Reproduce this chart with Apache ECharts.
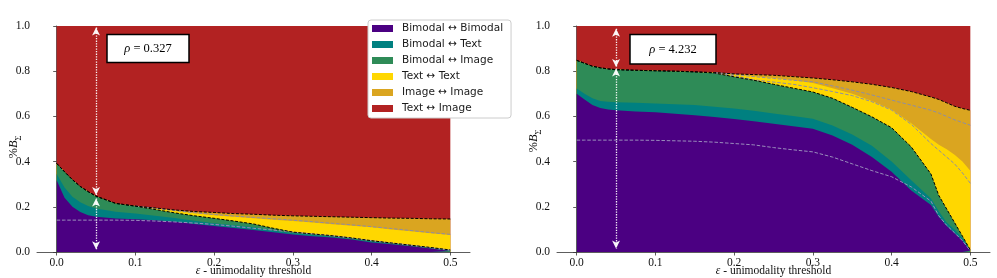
<!DOCTYPE html>
<html><head><meta charset="utf-8">
<script src="https://cdn.jsdelivr.net/npm/echarts@6/dist/echarts.min.js"></script>
<style>html,body{margin:0;padding:0;background:#fff}#c{width:997px;height:278px}</style>
</head><body><div id="c"></div>
<script>
// ---- categories / legend ----
const layerNames = ['Bimodal \u2194 Bimodal','Bimodal \u2194 Text','Bimodal \u2194 Image','Text \u2194 Text','Image \u2194 Image','Text \u2194 Image'];
const layerColors = ['#4b0082','#008080','#2e8b57','#ffd700','#daa520','#b22222'];
const xTicks = [0, 0.1, 0.2, 0.3, 0.4, 0.5];
const rhoValues = ['0.327', '4.232'];
const arrowEps = 0.05;
const arrowLeft = [0.993, 0.252, 0.237, 0.012];
const arrowRight = [0.988, 0.819, 0.812, 0.016];

// ---- left panel: cumulative boundaries (top of each layer) ----
const epsL = [0,0.01,0.02,0.03,0.04,0.05,0.075,0.1,0.125,0.15,0.175,0.2,0.225,0.25,0.275,0.3,0.325,0.35,0.375,0.4,0.425,0.45,0.475,0.5];
const bbTopL = [.318,.24,.20,.177,.163,.156,.148,.145,.14,.134,.124,.115,.106,.097,.087,.077,.07,.064,.055,.042,.034,.025,.015,.004];
const btTopL = [.345,.285,.245,.22,.203,.193,.178,.17,.16,.15,.138,.127,.118,.109,.095,.083,.076,.068,.058,.046,.037,.027,.017,.006];
const biTopL = [.392,.355,.32,.29,.267,.247,.215,.203,.188,.173,.16,.149,.137,.124,.105,.088,.08,.072,.062,.05,.04,.03,.02,.009];
const ttTopL = [.392,.355,.32,.29,.267,.247,.215,.203,.193,.182,.172,.163,.156,.149,.143,.137,.13,.123,.116,.109,.1,.092,.083,.075];
const iiTopL = [.392,.355,.32,.29,.267,.247,.215,.203,.195,.186,.179,.175,.170,.167,.163,.16,.158,.156,.154,.152,.15,.149,.147,.146];
const bbRefL = [.141,.141,.141,.141,.141,.141,.141,.14,.137,.133,.128,.122,.114,.105,.097,.088,.08,.072,.062,.05,.04,.03,.019,.008];
const grayRefL = [null,null,null,null,null,null,null,.203,.193,.183,.174,.166,.159,.153,.147,.141,.134,.127,.12,.112,.104,.095,.086,.078];

// ---- right panel ----
const epsR = [0,0.01,0.02,0.03,0.04,0.05,0.075,0.1,0.125,0.15,0.175,0.2,0.225,0.25,0.275,0.3,0.325,0.35,0.375,0.4,0.425,0.45,0.46,0.47,0.48,0.49,0.5];
const bbTopR = [.70,.675,.65,.637,.63,.627,.622,.618,.612,.605,.597,.588,.578,.568,.556,.545,.515,.475,.42,.355,.272,.208,.155,.115,.083,.05,.005];
const btTopR = [.723,.70,.68,.668,.665,.663,.66,.657,.654,.65,.643,.635,.625,.613,.602,.59,.56,.52,.47,.40,.317,.237,.18,.13,.10,.062,.007];
const biTopR = [.848,.835,.822,.815,.81,.807,.804,.802,.80,.797,.792,.775,.76,.742,.725,.708,.68,.64,.598,.55,.465,.345,.25,.19,.13,.07,.009];
const ttTopR = [.848,.835,.822,.815,.81,.807,.804,.802,.80,.797,.793,.785,.778,.77,.76,.748,.725,.70,.668,.63,.57,.50,.475,.455,.43,.40,.36];
const iiTopR = [.848,.835,.822,.815,.81,.807,.804,.802,.80,.797,.794,.788,.785,.782,.776,.77,.762,.753,.742,.728,.71,.686,.675,.66,.645,.635,.627];
const bbRefR = [.495,.495,.495,.495,.495,.495,.495,.494,.492,.49,.486,.48,.474,.462,.452,.443,.42,.39,.36,.333,.288,.225,.16,.118,.085,.05,.005];
const grayRefR1 = [null,null,null,null,null,null,null,null,null,null,.794,.786,.776,.768,.76,.753,.735,.716,.695,.672,.65,.627,.615,.60,.585,.573,.561];
const grayRefR2 = [null,null,null,null,null,null,null,null,null,null,.792,.78,.762,.752,.742,.727,.71,.692,.665,.628,.565,.48,.45,.42,.39,.35,.304];

const serif = 'Liberation Serif';
const pair = (xs, ys) => xs.map((x, i) => [x, ys[i]]).filter(p => p[1] !== null);

function areaSeries(gi, name, color, xs, ys) {
  return {
    type: 'line', name, xAxisIndex: gi, yAxisIndex: gi, data: pair(xs, ys),
    showSymbol: false, symbol: 'none', silent: true, animation: false,
    itemStyle: { color }, lineStyle: { width: 0, color },
    areaStyle: { color, opacity: 1 }, emphasis: { disabled: true }
  };
}
function dashSeries(gi, xs, ys, color, width, dash, extra) {
  return Object.assign({
    type: 'line', name: '_d', xAxisIndex: gi, yAxisIndex: gi, data: pair(xs, ys),
    showSymbol: false, symbol: 'none', silent: true, animation: false,
    lineStyle: { color, width, type: dash }, emphasis: { disabled: true }, z: 3
  }, extra || {});
}
function arrows(xa, a) {
  return {
    silent: true, animation: false, symbol: ['arrow', 'arrow'], symbolSize: [6, 8],
    label: { show: false }, emphasis: { disabled: true },
    lineStyle: { color: '#ffffff', type: 'dotted', width: 1.3, opacity: 0.95 },
    data: [[{ coord: [xa, a[0]] }, { coord: [xa, a[1]] }], [{ coord: [xa, a[2]] }, { coord: [xa, a[3]] }]]
  };
}
function panel(gi, xs, tops, bbRef, grays, arr) {
  const s = [];
  s.push(areaSeries(gi, layerNames[5], layerColors[5], xs, xs.map(() => 1)));
  for (let k = 4; k >= 0; k--) s.push(areaSeries(gi, layerNames[k], layerColors[k], xs, tops[k]));
  s.push(dashSeries(gi, xs, bbRef, '#9a8cbc', 1, [3.5, 1.8]));
  grays.forEach(g => s.push(dashSeries(gi, xs, g, '#8e8ea4', 1, [3.5, 1.8])));
  s.push(dashSeries(gi, xs, tops[2], '#000', 1, [3, 1.6]));
  s.push(dashSeries(gi, xs, tops[4], '#000', 1, [3, 1.6], { markLine: arrows(arrowEps, arr) }));
  return s;
}

const gridLefts = [37, 557];
const xAxes = gridLefts.map((l, gi) => ({
  type: 'value', gridIndex: gi, min: -0.025, max: 0.525,
  axisLine: { show: true, lineStyle: { color: '#333', width: 0.8 } },
  axisTick: { show: true, length: 3.5, customValues: xTicks, lineStyle: { color: '#333', width: 0.8 } },
  axisLabel: { customValues: xTicks, formatter: v => v.toFixed(1), fontFamily: serif, fontSize: 11.5, color: '#111', margin: 5 },
  splitLine: { show: false },
  name: '{i|\u03b5} - unimodality threshold', nameLocation: 'middle', nameGap: 13, nameMoveOverlap: false,
  nameTextStyle: { fontFamily: serif, fontSize: 11.5, color: '#111', verticalAlign: 'top', rich: { i: { fontFamily: serif, fontStyle: 'italic', fontSize: 11.5, color: '#111' } } }
}));
const yAxes = gridLefts.map((l, gi) => ({
  type: 'value', gridIndex: gi, min: 0, max: 1, interval: 0.2,
  axisLine: { show: true, lineStyle: { color: '#333', width: 0.8 } },
  axisTick: { show: true, length: 3.5, lineStyle: { color: '#333', width: 0.8 } },
  axisLabel: { formatter: v => v.toFixed(1), fontFamily: serif, fontSize: 11.5, color: '#111', margin: 7 },
  splitLine: { show: false }
}));

function ylabel(x, y) {
  return {
    type: 'text', x, y, rotation: Math.PI / 2, silent: true, z: 100,
    style: {
      text: '{n|%}{b|B}{s|\u03a3}', align: 'center', verticalAlign: 'middle',
      rich: {
        n: { fontFamily: serif, fontSize: 12.5, fill: '#111', lineHeight: 16, verticalAlign: 'top' },
        b: { fontFamily: serif, fontStyle: 'italic', fontSize: 12.5, fill: '#111', lineHeight: 16, verticalAlign: 'top' },
        s: { fontFamily: serif, fontSize: 8.5, fill: '#111', lineHeight: 9, verticalAlign: 'bottom' }
      }
    }
  };
}
function rhoBox(x, y, w, h, val) {
  return {
    type: 'group', silent: true, z: 100, children: [
      { type: 'rect', z: 100, shape: { x, y, width: w, height: h }, style: { fill: '#fff', stroke: '#000', lineWidth: 1.5 } },
      { type: 'text', z: 101, x: x + w / 2, y: y + h / 2, style: {
        text: '{i|\u03c1} = ' + val, align: 'center', verticalAlign: 'middle',
        fontFamily: serif, fontSize: 12.5, fill: '#000',
        rich: { i: { fontFamily: serif, fontStyle: 'italic', fontSize: 12.5, fill: '#000' } } } }
    ]
  };
}

const chart = echarts.init(document.getElementById('c'), null, { renderer: 'canvas' });
chart.setOption({
  animation: false,
  backgroundColor: '#fff',
  grid: gridLefts.map(l => ({ left: l, top: 26, width: 433, height: 226, containLabel: false, outerBoundsMode: 'none' })),
  xAxis: xAxes,
  yAxis: yAxes,
  legend: {
    data: layerNames, orient: 'vertical', left: 368, top: 20, icon: 'rect',
    itemWidth: 21, itemHeight: 7, itemGap: 3, padding: [2, 8, 3, 4],
    backgroundColor: '#fff', borderColor: '#cccccc', borderWidth: 1, borderRadius: 3,
    selectedMode: false,
    textStyle: { fontFamily: 'DejaVu Sans', fontSize: 10.5, color: '#1a1a1a', lineHeight: 13, padding: [0, 0, 0, 4] }
  },
  series: [].concat(
    panel(0, epsL, [bbTopL, btTopL, biTopL, ttTopL, iiTopL], bbRefL, [grayRefL], arrowLeft),
    panel(1, epsR, [bbTopR, btTopR, biTopR, ttTopR, iiTopR], bbRefR, [grayRefR1, grayRefR2], arrowRight)
  ),
  graphic: [
    ylabel(15, 147), ylabel(535, 141),
    rhoBox(107, 34.5, 82, 28, rhoValues[0]),
    rhoBox(630, 34.5, 86, 29.5, rhoValues[1])
  ]
});
</script>
</body></html>
